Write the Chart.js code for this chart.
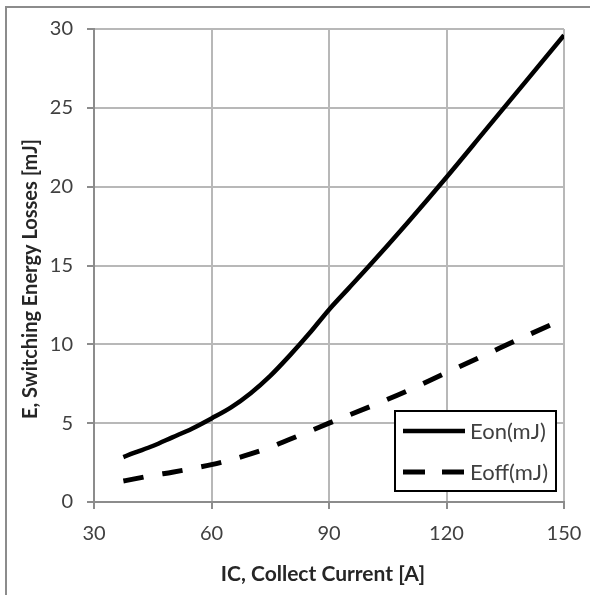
<!DOCTYPE html>
<html>
<head>
<meta charset="utf-8">
<script src="https://cdn.jsdelivr.net/npm/chart.js@4"></script>
<style>
  html, body { margin: 0; padding: 0; background: #ffffff; }
  #wrap { position: relative; width: 590px; height: 595px; }
</style>
</head>
<body>
<div id="wrap"><canvas id="chart" width="590" height="595"></canvas></div>
<script>
// Switching energy losses vs collector current
const eonCurrent  = [37.5, 40, 45, 50, 55, 60, 65, 70, 75, 80, 85, 90, 95, 100, 110, 120, 130, 140, 150];
const eonLoss     = [2.85, 3.1, 3.55, 4.1, 4.65, 5.3, 6.0, 6.9, 8.0, 9.3, 10.7, 12.2, 13.55, 14.9, 17.7, 20.6, 23.6, 26.6, 29.6];
const eoffCurrent = [37.5, 40, 45, 50, 55, 60, 65, 70, 75, 80, 85, 90, 100, 110, 120, 130, 140, 150];
const eoffLoss    = [1.33, 1.45, 1.69, 1.89, 2.12, 2.37, 2.68, 3.05, 3.47, 3.98, 4.48, 5.0, 6.0, 7.05, 8.2, 9.35, 10.5, 11.6];
const xTicks = [30, 60, 90, 120, 150];
const yTicks = [0, 5, 10, 15, 20, 25, 30];
const seriesNames = ['Eon(mJ)', 'Eoff(mJ)'];
const xTitle = 'IC, Collect Current [A]';
const yTitle = 'E, Switching Energy Losses [mJ]';

const FONT = 'Lato, "Open Sans", "Liberation Sans", sans-serif';
const pairs = (xs, ys) => xs.map((x, i) => ({ x, y: ys[i] }));

// Frame, axis titles and the inset legend
const decorations = {
  id: 'decorations',
  beforeDraw(chart) {
    const ctx = chart.ctx;
    ctx.save();
    ctx.strokeStyle = '#8c8c8c';
    ctx.lineWidth = 2;
    ctx.beginPath();
    ctx.moveTo(6, 600);
    ctx.lineTo(6, 7);
    ctx.lineTo(600, 7);
    ctx.stroke();
    ctx.restore();
  },
  afterDraw(chart) {
    const ctx = chart.ctx;
    ctx.save();
    // axis titles
    ctx.fillStyle = '#262626';
    ctx.textAlign = 'center';
    ctx.textBaseline = 'middle';
    ctx.font = 'bold 21px ' + FONT;
    ctx.fillText(xTitle, 323, 574);
    ctx.font = 'bold 20px ' + FONT;
    ctx.translate(31, 279);
    ctx.rotate(-Math.PI / 2);
    ctx.fillText(yTitle, 0, 0);
    ctx.restore();

    // legend box
    ctx.save();
    const bx = 395, by = 411, bw = 161, bh = 80;
    ctx.fillStyle = '#ffffff';
    ctx.fillRect(bx, by, bw, bh);
    ctx.strokeStyle = '#000000';
    ctx.lineWidth = 2;
    ctx.strokeRect(bx, by, bw, bh);
    const rows = [431, 472];
    chart.data.datasets.forEach((ds, i) => {
      const y = rows[i];
      ctx.strokeStyle = ds.borderColor;
      ctx.lineWidth = ds.borderWidth;
      ctx.lineCap = 'butt';
      ctx.setLineDash(ds.borderDash ? [22, 17] : []);
      ctx.beginPath();
      ctx.moveTo(403, y);
      ctx.lineTo(465, y);
      ctx.stroke();
      ctx.setLineDash([]);
      ctx.fillStyle = '#404040';
      ctx.font = '22px ' + FONT;
      ctx.textAlign = 'left';
      ctx.textBaseline = 'middle';
      ctx.fillText(ds.label, 470, y + 1);
    });
    ctx.restore();
  }
};

new Chart(document.getElementById('chart'), {
  type: 'line',
  data: {
    datasets: [
      {
        label: seriesNames[0],
        data: pairs(eonCurrent, eonLoss),
        borderColor: '#000000',
        borderWidth: 4.5,
        pointRadius: 0,
        cubicInterpolationMode: 'monotone',
        fill: false
      },
      {
        label: seriesNames[1],
        data: pairs(eoffCurrent, eoffLoss),
        borderColor: '#000000',
        borderWidth: 5,
        borderDash: [20.5, 19.1],
        borderCapStyle: 'butt',
        pointRadius: 0,
        cubicInterpolationMode: 'monotone',
        fill: false
      }
    ]
  },
  options: {
    responsive: false,
    animation: false,
    layout: { padding: { left: 0, top: 29, right: 26, bottom: 0 } },
    plugins: {
      legend: { display: false },
      tooltip: { enabled: false }
    },
    scales: {
      x: {
        type: 'linear',
        min: xTicks[0],
        max: xTicks[xTicks.length - 1],
        afterBuildTicks(scale) { scale.ticks = xTicks.map(v => ({ value: v })); },
        afterFit(scale) {
          scale.height = 93;
          scale.paddingLeft = 0;
          scale.paddingRight = 0;
        },
        grid: { color: '#b8b8b8', lineWidth: 2, tickLength: 7, tickColor: '#8c8c8c', tickWidth: 2 },
        border: { color: '#8c8c8c', width: 2 },
        ticks: { color: '#404040', font: { family: FONT, size: 20 }, padding: 13, maxRotation: 0 }
      },
      y: {
        type: 'linear',
        min: yTicks[0],
        max: yTicks[yTicks.length - 1],
        afterBuildTicks(scale) { scale.ticks = yTicks.map(v => ({ value: v })); },
        afterFit(scale) {
          scale.width = 94;
          scale.paddingTop = 0;
          scale.paddingBottom = 0;
        },
        grid: { color: '#b8b8b8', lineWidth: 2, tickLength: 7, tickColor: '#8c8c8c', tickWidth: 2 },
        border: { color: '#8c8c8c', width: 2 },
        ticks: { color: '#404040', font: { family: FONT, size: 20 }, padding: 14 }
      }
    }
  },
  plugins: [decorations]
});
</script>
</body>
</html>
